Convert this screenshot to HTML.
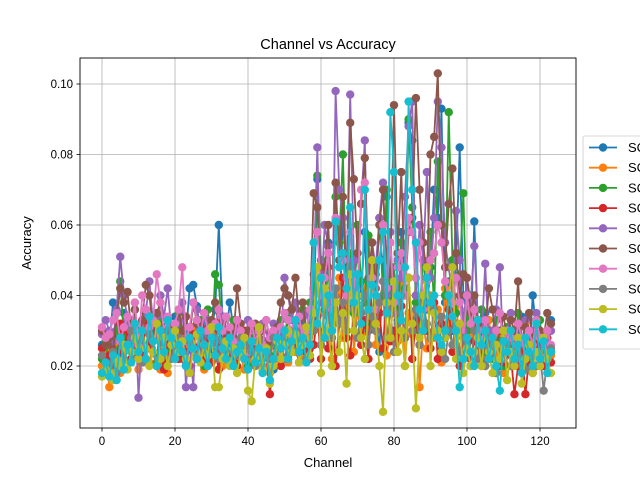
<!DOCTYPE html>
<html><head><meta charset="utf-8"><style>
body{margin:0;background:#fff;}
svg{display:block;font-family:"Liberation Sans","DejaVu Sans",sans-serif;}
</style></head><body>
<svg id="chart" width="640" height="480" viewBox="0 0 640 480" xmlns="http://www.w3.org/2000/svg">
<defs><clipPath id="pc"><rect x="80" y="58" width="496" height="370"/></clipPath></defs>
<rect width="640" height="480" fill="#fff"/>
<text x="328" y="49" text-anchor="middle" font-size="14.5">Channel vs Accuracy</text>
<g id="grid"></g>
<g id="series" clip-path="url(#pc)"></g>
<rect x="80" y="58" width="496" height="370" fill="none" stroke="#000" stroke-width="0.9"/>
<g id="ticks"></g>
<text x="328" y="467" text-anchor="middle" font-size="13">Channel</text>
<text x="31" y="243" text-anchor="middle" font-size="13" transform="rotate(-90 31 243)">Accuracy</text>
<g id="legend"></g>
</svg>
<script>
const seriesNames=["SC01","SC02","SC03","SC04","SC05","SC06","SC07","SC08","SC09","SC10"];
const colors=["#1f77b4","#ff7f0e","#2ca02c","#d62728","#9467bd","#8c564b","#e377c2","#7f7f7f","#bcbd22","#17becf"];
const xTicks=[0,20,40,60,80,100,120];
const yTicks=[0.02,0.04,0.06,0.08,0.10];
const yTickLabels=["0.02","0.04","0.06","0.08","0.10"];
const s1=[26,22,25,38,30,22,35,28,33,26,30,24,36,29,27,33,21,31,28,25,34,30,26,29,42,43,37,29,33,28,31,36,60,34,28,38,31,27,26,22,33,24,31,28,20,26,22,19,25,30,28,33,29,31,24,34,27,30,35,73,45,38,55,28,40,32,62,48,36,44,52,40,58,30,46,35,24,50,68,38,42,33,58,45,89,84,40,30,55,36,48,70,62,93,38,44,30,50,82,40,35,28,61,30,22,35,28,24,33,20,27,31,25,22,29,34,26,21,40,30,24,28,22,33];
const s2=[20,24,14,20,28,18,24,30,22,26,19,32,25,21,27,23,19,28,18,24,26,22,29,20,25,31,23,28,19,26,22,30,24,20,27,25,21,33,23,19,26,22,28,24,20,25,18,30,22,26,29,21,27,24,31,23,28,25,30,48,26,35,40,22,33,45,28,38,50,24,36,29,42,31,47,26,35,40,23,30,38,27,44,20,35,29,45,14,32,25,40,28,36,21,42,30,33,26,45,22,36,29,28,24,30,20,33,26,22,28,18,31,24,27,20,25,32,22,19,28,24,21,30,23];
const s3=[22,27,20,25,30,44,28,33,22,36,27,30,25,32,28,21,34,26,30,24,28,35,22,27,31,25,29,33,20,36,24,46,43,30,26,22,33,27,30,24,20,28,25,31,22,27,23,30,26,33,28,35,24,30,27,36,25,38,42,74,50,36,48,30,68,55,80,40,52,35,60,44,38,57,32,46,62,40,70,35,48,30,55,42,90,65,38,30,50,44,58,36,78,60,40,92,50,35,46,69,30,40,32,28,36,24,30,22,33,27,20,31,25,22,35,28,24,30,20,26,33,22,28,24];
const s4=[25,21,23,28,20,32,24,30,22,26,29,21,33,25,28,20,24,19,27,23,30,22,26,24,20,29,25,31,22,27,21,24,19,33,26,22,28,20,25,30,23,27,21,26,19,24,12,22,28,20,26,23,30,25,21,28,24,22,26,34,22,30,25,38,20,32,45,28,23,36,40,26,33,22,48,30,35,25,42,27,30,24,37,28,45,22,33,26,40,30,25,38,22,32,28,36,24,30,20,28,25,22,27,24,20,28,22,25,18,26,21,27,23,12,20,25,12,22,18,26,24,20,28,21];
const s5=[29,33,30,27,36,51,40,33,28,38,11,30,35,44,32,28,40,34,42,30,26,33,38,14,28,14,36,30,25,33,28,31,26,34,30,28,24,31,27,22,33,25,30,27,32,24,29,32,30,28,45,40,33,38,30,27,35,31,46,82,38,60,54,30,98,70,62,45,97,50,40,66,84,36,55,48,62,72,40,58,35,50,45,68,88,95,40,60,50,75,45,62,95,82,55,48,40,64,50,30,45,38,54,33,28,49,25,30,36,48,22,30,35,28,22,26,33,24,30,35,28,22,26,30];
const s6=[30,26,28,24,35,42,38,41,30,36,27,33,43,40,30,35,38,28,33,30,26,36,30,34,28,38,32,28,35,30,33,38,30,26,34,30,28,42,32,27,30,25,32,28,30,33,27,29,31,38,42,40,36,45,33,38,30,36,69,65,40,48,60,35,72,50,68,40,89,73,52,66,79,45,55,42,60,70,50,46,94,52,75,40,58,62,96,70,55,45,80,85,103,60,48,66,76,52,40,46,45,35,40,32,28,30,42,36,26,30,34,28,33,30,44,26,31,35,28,33,30,28,35,32];
const s7=[31,28,29,33,35,27,31,34,30,38,26,40,36,31,33,46,38,30,34,28,32,36,48,27,31,38,33,29,35,30,28,32,36,30,34,31,27,33,30,28,24,32,27,30,26,33,28,30,27,31,35,33,29,31,34,28,30,36,55,58,40,45,52,36,62,48,50,40,58,45,36,70,72,40,45,36,50,60,42,55,38,48,52,40,62,58,45,55,36,44,50,52,60,55,44,40,38,45,38,28,40,32,36,30,26,33,28,24,30,35,26,30,28,24,32,28,22,30,26,33,28,24,30,26];
const s8=[23,19,20,24,18,28,22,26,30,23,27,21,25,29,24,20,27,23,30,22,26,28,24,21,27,25,22,29,24,20,26,28,22,27,24,21,25,23,28,22,26,24,20,27,23,25,22,28,24,26,22,27,25,30,24,28,22,26,30,45,26,38,34,28,42,32,38,30,48,36,28,35,40,26,34,30,38,44,28,36,24,32,40,28,45,30,36,26,38,32,28,36,30,34,22,30,26,32,24,28,26,20,30,22,26,20,28,24,18,25,22,26,20,24,28,22,19,26,23,20,24,13,22,25];
const s9=[17,19,18,16,22,20,26,19,24,28,22,30,25,20,24,32,22,28,20,26,30,24,27,22,18,25,29,21,26,23,31,14,14,22,27,20,25,18,24,28,13,10,22,31,19,25,15,20,27,22,26,30,24,29,21,26,31,23,35,48,18,42,30,20,38,24,35,15,46,30,40,28,22,36,50,32,20,7,38,28,44,24,30,20,45,32,8,28,40,48,20,35,30,24,28,40,48,22,32,18,25,20,24,28,20,30,24,18,26,22,30,16,24,20,28,15,22,26,18,24,20,28,22,18];
const s10=[18,21,17,23,16,28,19,26,21,32,24,30,22,34,27,20,30,24,33,28,22,26,24,20,28,25,22,30,26,20,28,23,31,25,22,28,20,24,26,22,19,27,21,25,18,24,16,22,28,25,30,22,27,33,24,28,21,26,55,32,45,28,40,30,61,48,52,42,65,38,46,32,70,36,43,40,50,58,35,92,75,40,33,48,95,70,55,36,30,45,38,40,28,26,30,40,34,30,14,22,28,24,20,33,26,30,22,28,20,13,27,24,30,22,26,18,28,24,20,32,22,27,18,24];
const allSeries=[s1,s2,s3,s4,s5,s6,s7,s8,s9,s10];

const NS="http://www.w3.org/2000/svg";
function xs(v){return 102+(v/120)*438;}
function ys(v){return 366-(v-0.02)/0.08*282;}
function mk(tag,attrs,parent){const e=document.createElementNS(NS,tag);for(const k in attrs)e.setAttribute(k,attrs[k]);parent.appendChild(e);return e;}
const grid=document.getElementById('grid'),ticks=document.getElementById('ticks');
xTicks.forEach(t=>{
  const gl=mk('line',{x1:xs(t),x2:xs(t),y1:58,y2:428,stroke:'#b0b0b0','stroke-width':0.8},grid);
  
  
  const tk=mk('line',{x1:xs(t),x2:xs(t),y1:428,y2:431.5,stroke:'#000','stroke-width':0.8},ticks);
  
  
  const tl=mk('text',{x:xs(t),y:445,'text-anchor':'middle','font-size':'11.5'},ticks);
  tl.textContent=String(t);
  
  
});
yTicks.forEach((t,i)=>{
  const gl=mk('line',{x1:80,x2:576,y1:ys(t),y2:ys(t),stroke:'#b0b0b0','stroke-width':0.8},grid);
  
  
  const tk=mk('line',{x1:76.5,x2:80,y1:ys(t),y2:ys(t),stroke:'#000','stroke-width':0.8},ticks);
  
  
  const tl=mk('text',{x:73,y:ys(t)+4,'text-anchor':'end','font-size':'11.5'},ticks);
  tl.textContent=yTickLabels[i];
  
  
});
const sg=document.getElementById('series');
allSeries.forEach((arr,si)=>{
  const g=mk('g',{},sg);
  
  
  const pts=arr.map((v,i)=>xs(i).toFixed(2)+','+ys(v/1000).toFixed(2)).join(' ');
  const pl=mk('polyline',{points:pts,fill:'none',stroke:colors[si],'stroke-width':1.8,'stroke-linejoin':'round'},g);
  
  
  arr.forEach((v,i)=>{
    const c=mk('circle',{cx:xs(i),cy:ys(v/1000),r:4.2,fill:colors[si]},g);
    
    
  });
});
const lg=document.getElementById('legend');
const box=mk('rect',{x:583,y:136,width:70,height:213,rx:2,fill:'#fff','fill-opacity':0.8,stroke:'#cccccc','stroke-width':0.8},lg);


seriesNames.forEach((n,i)=>{
  const y=147.5+i*20.2;
  const g=mk('g',{},lg);
  
  
  mk('line',{x1:589,x2:617,y1:y,y2:y,stroke:colors[i],'stroke-width':1.8},g);
  mk('circle',{cx:603,cy:y,r:4.2,fill:colors[i]},g);
  const t=mk('text',{x:628,y:y+4.5,'font-size':'13'},g);
  t.textContent=n;
});
</script>
</body></html>
